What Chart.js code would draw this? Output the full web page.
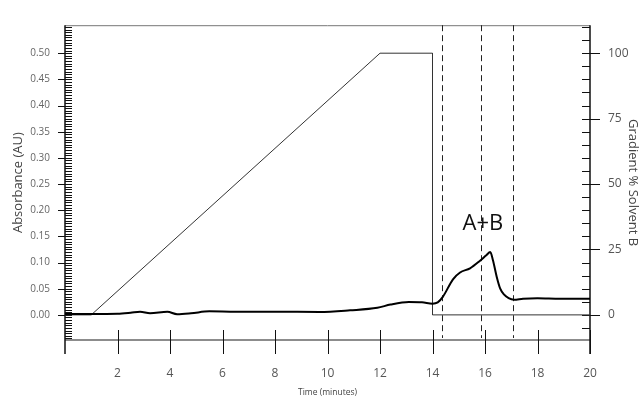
<!DOCTYPE html>
<html><head><meta charset="utf-8">
<script src="https://cdn.jsdelivr.net/npm/chart.js@4.4.1/dist/chart.umd.min.js"></script>
<style>html,body{margin:0;padding:0;background:#fff}#wrap{width:641px;height:402px;position:relative}</style>
</head><body><div id="wrap"><canvas id="c"></canvas></div>
<script>
// ---- data ----
const timeAbs = [0, 1, 2, 2.5, 2.86, 3.24, 3.9, 4.27, 4.8, 5.5, 6.5, 8, 9.7, 10.86, 11.9, 12.4, 13.1, 13.6, 14.0, 14.2, 14.4, 14.78, 15.05, 15.43, 15.8, 16.05, 16.2, 16.3, 16.46, 16.58, 16.72, 16.9, 17.1, 17.45, 18.0, 18.86, 20];
const absorbance = [0.0015, 0.0015, 0.002, 0.004, 0.006, 0.003, 0.006, 0.0013, 0.003, 0.0068, 0.006, 0.006, 0.0055, 0.0087, 0.0135, 0.0197, 0.0245, 0.024, 0.0215, 0.024, 0.035, 0.068, 0.081, 0.089, 0.103, 0.114, 0.12, 0.105, 0.07, 0.05, 0.039, 0.032, 0.029, 0.031, 0.032, 0.031, 0.031];
const timeGrad = [0, 1, 12, 14, 14, 20];
const gradientB = [0, 0, 100, 100, 0, 0];
const xTickLabels = [2, 4, 6, 8, 10, 12, 14, 16, 18, 20];
const yTickLabels = [0, 0.05, 0.10, 0.15, 0.20, 0.25, 0.30, 0.35, 0.40, 0.45, 0.50];
const y2TickLabels = [0, 25, 50, 75, 100];
const fractionMarks = [14.35, 15.85, 17.05];
const peakName = 'A+B';
const peakAt = [15.92, 0.175];

const absPoints = timeAbs.map((t, i) => ({x: t, y: absorbance[i]}));
const gradPoints = timeGrad.map((t, i) => ({x: t, y: gradientB[i]}));

const tickFontNarrow = "'Liberation Sans Narrow', 'Open Sans', sans-serif";

const axesPlugin = {
  id: 'axesPlugin',
  beforeDatasetsDraw(chart) {
    const {ctx, chartArea: a, scales} = chart;
    const xs = scales.x, ys = scales.y, y2 = scales.y2;
    ctx.save();
    // top border
    ctx.strokeStyle = '#777'; ctx.lineWidth = 1;
    ctx.beginPath(); ctx.moveTo(a.left, a.top + 0.5); ctx.lineTo(a.right, a.top + 0.5); ctx.stroke();
    // x axis line
    ctx.strokeStyle = '#666'; ctx.lineWidth = 1.5;
    ctx.beginPath(); ctx.moveTo(a.left, a.bottom); ctx.lineTo(a.right, a.bottom); ctx.stroke();
    // left & right axis lines
    ctx.strokeStyle = '#111'; ctx.lineWidth = 1.5;
    ctx.beginPath(); ctx.moveTo(a.left, a.top); ctx.lineTo(a.left, a.bottom + 14);
    ctx.moveTo(a.right, a.top); ctx.lineTo(a.right, a.bottom + 14); ctx.stroke();
    // x ticks
    ctx.lineWidth = 1;
    ctx.beginPath();
    xTickLabels.forEach(v => {
      const px = Math.round(xs.getPixelForValue(v)) + 0.5;
      ctx.moveTo(px, a.bottom - 10); ctx.lineTo(px, a.bottom + 14);
    });
    ctx.stroke();
    // left ticks
    ctx.beginPath();
    for (let k = -9; k <= 110; k++) {
      const v = k * 0.005;
      const py = Math.round(ys.getPixelForValue(v)) + 0.5;
      if (py < a.top) continue;
      if (k % 10 === 0 && k >= 0 && k <= 100) { ctx.moveTo(a.left - 7, py); ctx.lineTo(a.left + 7, py); }
      else { ctx.moveTo(a.left, py); ctx.lineTo(a.left + 7, py); }
    }
    ctx.stroke();
    // right ticks
    ctx.beginPath();
    for (let k = -1; k <= 22; k++) {
      const v = k * 5;
      const py = Math.round(y2.getPixelForValue(v)) + 0.5;
      if (py < a.top) continue;
      if (k % 5 === 0 && k >= 0 && k <= 20) { ctx.moveTo(a.right - 8, py); ctx.lineTo(a.right + 10, py); }
      else { ctx.moveTo(a.right - 8, py); ctx.lineTo(a.right, py); }
    }
    ctx.stroke();
    // fraction dashed lines
    ctx.strokeStyle = '#222'; ctx.lineWidth = 1; ctx.setLineDash([6, 4]);
    ctx.beginPath();
    fractionMarks.forEach(v => {
      const px = Math.round(xs.getPixelForValue(v)) + 0.5;
      ctx.moveTo(px, a.top); ctx.lineTo(px, a.bottom - 2);
    });
    ctx.stroke();
    ctx.setLineDash([]);
    ctx.restore();
  },
  afterDraw(chart) {
    const {ctx, scales} = chart;
    ctx.save();
    ctx.fillStyle = '#111';
    ctx.font = "22px 'Open Sans', sans-serif";
    ctx.textAlign = 'center'; ctx.textBaseline = 'middle';
    ctx.fillText(peakName, scales.x.getPixelForValue(peakAt[0]), scales.y.getPixelForValue(peakAt[1]));
    ctx.restore();
  }
};

new Chart(document.getElementById('c'), {
  type: 'line',
  data: {
    datasets: [
      {label: 'Absorbance', data: absPoints, yAxisID: 'y', borderColor: '#000', borderWidth: 2,
       pointRadius: 0, cubicInterpolationMode: 'monotone', tension: 0.4, fill: false},
      {label: 'Gradient', data: gradPoints, yAxisID: 'y2', borderColor: '#333', borderWidth: 1,
       pointRadius: 0, tension: 0, fill: false}
    ]
  },
  options: {
    responsive: true, maintainAspectRatio: false, animation: false,
    layout: {padding: {top: 14, left: 0, right: 0, bottom: 0}},
    plugins: {legend: {display: false}, tooltip: {enabled: false}},
    scales: {
      x: {
        type: 'linear', position: 'bottom', min: 0, max: 20,
        afterFit(s) { s.height = 62; },
        afterBuildTicks(s) { s.ticks = xTickLabels.map(v => ({value: v})); },
        grid: {display: false, drawTicks: false}, border: {display: false},
        ticks: {padding: 26, color: '#555', autoSkip: false, maxRotation: 0,
                font: {family: tickFontNarrow, size: 12}, callback: v => String(v)},
        title: {display: true, text: 'Time (minutes)', color: '#444',
                font: {family: "'Open Sans', sans-serif", size: 8.5}, padding: {top: 0, bottom: 4}}
      },
      y: {
        type: 'linear', position: 'left', min: -0.048, max: 0.5535,
        afterFit(s) { s.width = 65; },
        afterBuildTicks(s) { s.ticks = yTickLabels.map(v => ({value: v})); },
        grid: {display: false, drawTicks: false}, border: {display: false},
        ticks: {padding: 15, color: '#666', font: {family: tickFontNarrow, size: 10},
                callback: v => Number(v).toFixed(2)},
        title: {display: true, text: 'Absorbance (AU)', color: '#444',
                font: {family: "'Open Sans', sans-serif", size: 13}, padding: {top: 10, bottom: 0}}
      },
      y2: {
        type: 'linear', position: 'right', min: -9.6, max: 110.7,
        afterFit(s) { s.width = 51; },
        afterBuildTicks(s) { s.ticks = y2TickLabels.map(v => ({value: v})); },
        grid: {display: false, drawTicks: false}, border: {display: false},
        ticks: {padding: 18, color: '#555', font: {family: tickFontNarrow, size: 12},
                callback: v => String(v)},
        title: {display: true, text: 'Gradient % Solvent B', color: '#444',
                font: {family: "'Open Sans', sans-serif", size: 13}, padding: {top: 0, bottom: 0}}
      }
    }
  },
  plugins: [axesPlugin]
});
</script></body></html>
